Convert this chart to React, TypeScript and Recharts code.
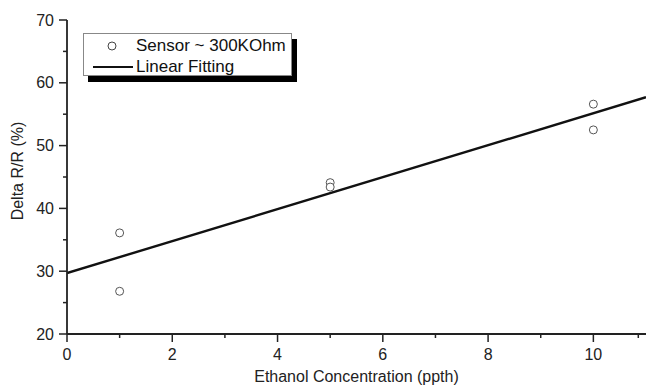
import { ComposedChart, Scatter, Line, XAxis, YAxis, Legend } from 'recharts';

const concentration = [1, 1, 5, 5, 10, 10];
const deltaR = [36.1, 26.8, 44.1, 43.4, 56.6, 52.5];
const fitX = [0, 11];
const fitY = [29.7, 57.7];
const xTicks = [0, 1, 2, 3, 4, 5, 6, 7, 8, 9, 10, 11];
const yTicks = [20, 25, 30, 35, 40, 45, 50, 55, 60, 65, 70];

const sensorData = concentration.map((x, i) => ({ x, y: deltaR[i] }));
const fitData = fitX.map((x, i) => ({ x, y: fitY[i] }));

const FONT = '"Liberation Sans", Arial, sans-serif';
const AXIS = '#222';

// bottom axis: labels on even values, short ticks on odd ones
function BottomTick(props: any) {
  const { x, y, payload } = props;
  const major = payload.value % 2 === 0;
  return (
    <g>
      <line x1={x} x2={x} y1={y} y2={y + (major ? 8 : 4)} stroke={AXIS} strokeWidth={1.5} />
      {major && payload.value <= 10 && (
        <text x={x} y={y + 20} textAnchor="middle" dominantBaseline="central" fontSize={16} fill="#222" fontFamily={FONT}>
          {payload.value}
        </text>
      )}
    </g>
  );
}

function LeftTick(props: any) {
  const { x, y, payload } = props;
  const major = payload.value % 10 === 0;
  return (
    <g>
      <line x1={x - (major ? 8 : 4)} x2={x} y1={y} y2={y} stroke={AXIS} strokeWidth={1.5} />
      {major && (
        <text x={x - 13} y={y} textAnchor="end" dominantBaseline="central" fontSize={16} fill="#222" fontFamily={FONT}>
          {payload.value}
        </text>
      )}
    </g>
  );
}

// mirror axes, ticks pointing inward
function TopTick(props: any) {
  const { x, y, payload } = props;
  const major = payload.value % 2 === 0;
  return <line x1={x} x2={x} y1={y} y2={y + (major ? 7 : 4)} stroke={AXIS} strokeWidth={1.5} />;
}

function RightTick(props: any) {
  const { x, y, payload } = props;
  const major = payload.value % 10 === 0;
  return <line x1={x - (major ? 7 : 4)} x2={x} y1={y} y2={y} stroke={AXIS} strokeWidth={1.5} />;
}

function LegendBox() {
  return (
    <div
      style={{
        width: 207,
        height: 41,
        border: '1px solid #888',
        background: '#fff',
        boxShadow: '5px 6px 0 #000',
        fontFamily: FONT,
        fontSize: 17,
        color: '#111',
        position: 'relative',
      }}
    >
      <svg width={60} height={41} style={{ position: 'absolute', left: 0, top: 0 }}>
        <circle cx={28} cy={12} r={4} fill="#fff" stroke="#444" strokeWidth={1} />
        <line x1={9} x2={49} y1={33} y2={33} stroke="#111" strokeWidth={2} />
      </svg>
      <div style={{ position: 'absolute', left: 52, top: 1, lineHeight: '21px', whiteSpace: 'nowrap' }}>
        <div>Sensor ~ 300KOhm</div>
        <div>Linear Fitting</div>
      </div>
    </div>
  );
}

export default function App() {
  return (
    <div style={{ position: 'absolute', left: 0, top: 0, background: '#fff' }}>
      <ComposedChart width={646} height={386} margin={{ top: 20, right: 0, bottom: 0, left: 0 }}>
        <XAxis
          dataKey="x"
          type="number"
          domain={[0, 11]}
          ticks={xTicks}
          allowDataOverflow
          height={52}
          tickSize={0}
          tickMargin={0}
          tickLine={false}
          tick={<BottomTick />}
          axisLine={{ stroke: AXIS, strokeWidth: 1.8 }}
          label={{
            content: (p: any) => {
              const vb = p.viewBox;
              return (
                <text x={vb.x + vb.width / 2} y={vb.y + 42} textAnchor="middle" dominantBaseline="central" fontSize={16} fill="#222" fontFamily={FONT}>
                  Ethanol Concentration (ppth)
                </text>
              );
            },
          }}
        />
        <XAxis
          xAxisId="top"
          orientation="top"
          dataKey="x"
          type="number"
          domain={[0, 11]}
          ticks={xTicks}
          allowDataOverflow
          height={0}
          tickSize={0}
          tickMargin={0}
          tickLine={false}
          tick={<TopTick />}
          axisLine={{ stroke: AXIS, strokeWidth: 1.8 }}
        />
        <YAxis
          dataKey="y"
          type="number"
          domain={[20, 70]}
          ticks={yTicks}
          allowDataOverflow
          width={67}
          tickSize={0}
          tickMargin={0}
          tickLine={false}
          tick={<LeftTick />}
          axisLine={{ stroke: AXIS, strokeWidth: 1.8 }}
          label={{
            content: (p: any) => {
              const vb = p.viewBox;
              const cx = vb.x + 17;
              const cy = vb.y + vb.height / 2 - 6;
              return (
                <text x={cx} y={cy} transform={`rotate(-90 ${cx} ${cy})`} textAnchor="middle" dominantBaseline="central" fontSize={16} fill="#222" fontFamily={FONT}>
                  Delta R/R (%)
                </text>
              );
            },
          }}
        />
        <YAxis
          yAxisId="right"
          orientation="right"
          dataKey="y"
          type="number"
          domain={[20, 70]}
          ticks={yTicks}
          allowDataOverflow
          width={0}
          tickSize={0}
          tickMargin={0}
          tickLine={false}
          tick={<RightTick />}
          axisLine={{ stroke: AXIS, strokeWidth: 1.8 }}
        />
        <Legend
          layout="vertical"
          align="center"
          verticalAlign="middle"
          wrapperStyle={{ left: 83, top: 33, width: 'auto', height: 'auto' }}
          content={() => <LegendBox />}
        />
        <Line
          data={fitData}
          dataKey="y"
          stroke="#111"
          strokeWidth={2.4}
          dot={false}
          activeDot={false}
          isAnimationActive={false}
          legendType="none"
        />
        <Scatter
          data={sensorData}
          dataKey="y"
          isAnimationActive={false}
          shape={(p: any) => <circle cx={p.cx} cy={p.cy} r={4} fill="#fff" stroke="#555" strokeWidth={1} />}
        />
      </ComposedChart>
    </div>
  );
}
